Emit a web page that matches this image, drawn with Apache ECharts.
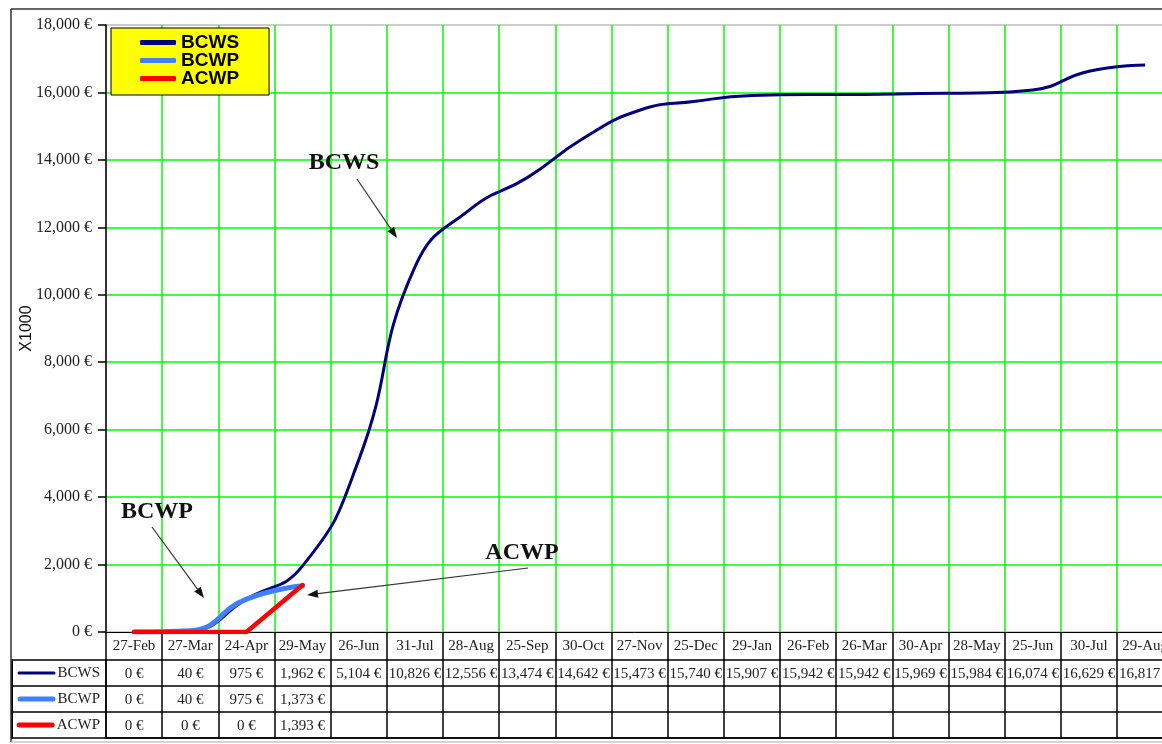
<!DOCTYPE html>
<html>
<head>
<meta charset="utf-8">
<script src="https://cdn.jsdelivr.net/npm/echarts@6/dist/echarts.min.js"></script>
<style>
  html, body { margin: 0; padding: 0; background: #fff; overflow: hidden; }
  #chart { width: 1162px; height: 744px; }
</style>
</head>
<body>
<div id="chart"></div>
<script>
// Reporting dates (x categories)
const categories = ['27-Feb', '27-Mar', '24-Apr', '29-May', '26-Jun', '31-Jul', '28-Aug', '25-Sep',
  '30-Oct', '27-Nov', '25-Dec', '29-Jan', '26-Feb', '26-Mar', '30-Apr', '28-May', '25-Jun', '30-Jul', '29-Aug'];

// Cumulative values (x1000 €)
const bcws = [0, 40, 975, 1962, 5104, 10826, 12556, 13474, 14642, 15473, 15740, 15907, 15942, 15942, 15969, 15984, 16074, 16629, 16817];
const bcwp = [0, 40, 975, 1373];
const acwp = [0, 0, 0, 1393];

const seriesNames = ['BCWS', 'BCWP', 'ACWP'];
const seriesColors = ['#000080', '#4080ff', '#ff0000'];

// Y axis ticks
const yMin = 0, yMax = 18000, yStep = 2000;

const SERIF = '"Liberation Serif", "Times New Roman", serif';
const SANS = '"Liberation Sans", Arial, sans-serif';

function euro(v) {
  return String(Math.round(v)).replace(/\B(?=(\d{3})+(?!\d))/g, ',') + ' \u20ac';
}

// Cells of the data table below the plot: [column, row, value]
const tableCells = [];
[bcws, bcwp, acwp].forEach((arr, r) => arr.forEach((v, i) => tableCells.push([i, r, v])));

const chart = echarts.init(document.getElementById('chart'), null, { renderer: 'canvas' });

const plotLeft = 106, colW = 56.17, plotTop = 25, plotBottomY = 632;
const plotWidth = colW * categories.length;

const option = {
  animation: false,
  backgroundColor: '#fff',
  grid: [
    { left: plotLeft, top: plotTop, width: plotWidth, height: plotBottomY - plotTop,
      outerBoundsMode: 'none', containLabel: false,
      show: true, borderColor: '#9a9a9a', borderWidth: 1, backgroundColor: 'transparent' },
    { left: plotLeft, top: 660, width: plotWidth, height: 78,
      outerBoundsMode: 'none', containLabel: false }
  ],
  legend: {
    data: seriesNames,
    orient: 'vertical',
    left: 111, top: 28,
    backgroundColor: '#ffff00',
    borderColor: '#000', borderWidth: 1,
    padding: [5, 30, 7, 29],
    itemGap: -1,
    itemWidth: 36, itemHeight: 5,
    icon: 'roundRect',
    selectedMode: false,
    textStyle: { fontFamily: SANS, fontWeight: 'bold', fontSize: 19, lineHeight: 18, color: '#000' }
  },
  xAxis: [
    {
      type: 'category', gridIndex: 0, data: categories, boundaryGap: true,
      axisLine: { show: true, lineStyle: { color: '#000', width: 1 } },
      axisTick: { show: true, interval: 0, length: 28, lineStyle: { color: '#000', width: 1.5 } },
      axisLabel: { interval: 0, margin: 7, fontFamily: SERIF, fontSize: 15, color: '#222' },
      splitLine: { show: true, interval: 0, showMinLine: false, lineStyle: { color: '#00ff00', width: 1.5 } }
    },
    {
      type: 'category', gridIndex: 1, data: categories, boundaryGap: true,
      axisLine: { show: true, lineStyle: { color: '#000', width: 1.5 } },
      axisTick: { show: false },
      axisLabel: { show: false },
      splitLine: { show: true, interval: 0, lineStyle: { color: '#000', width: 1.5 } }
    }
  ],
  yAxis: [
    {
      type: 'value', gridIndex: 0, min: yMin, max: yMax, interval: yStep,
      name: 'X1000', nameLocation: 'middle', nameRotate: 90, nameGap: 71, nameMoveOverlap: false,
      nameTextStyle: { fontFamily: SANS, fontSize: 16, color: '#111' },
      axisLine: { show: true, lineStyle: { color: '#000', width: 1.5 } },
      axisTick: { show: true, length: 8, lineStyle: { color: '#000', width: 1.5 } },
      axisLabel: { margin: 14, fontFamily: SERIF, fontSize: 16, color: '#222', formatter: v => euro(v) },
      splitLine: { show: true, showMinLine: false, showMaxLine: false, lineStyle: { color: '#00ff00', width: 1.5 } }
    },
    {
      type: 'category', gridIndex: 1, data: seriesNames, inverse: true, boundaryGap: true,
      axisLine: { show: true, lineStyle: { color: '#000', width: 1.5 } },
      axisTick: { show: true, interval: 0, length: 94, lineStyle: { color: '#000', width: 1.5 } },
      splitLine: { show: true, interval: 0, lineStyle: { color: '#000', width: 1.5 } },
      axisLabel: {
        interval: 0, margin: 6,
        formatter: (v, i) => '{k' + i + '|}{t|' + v + '}',
        rich: {
          k0: { width: 38, height: 3, backgroundColor: seriesColors[0], borderRadius: 1.5 },
          k1: { width: 38, height: 5, backgroundColor: seriesColors[1], borderRadius: 2.5 },
          k2: { width: 38, height: 5, backgroundColor: seriesColors[2], borderRadius: 2.5 },
          t: { fontFamily: SERIF, fontSize: 15, color: '#222', padding: [0, 0, 0, 2] }
        }
      }
    },
    {
      type: 'category', gridIndex: 1, data: seriesNames, inverse: true, position: 'left', offset: 94,
      axisLine: { show: true, lineStyle: { color: '#000', width: 2 } },
      axisTick: { show: false }, axisLabel: { show: false }, splitLine: { show: false }
    }
  ],
  series: [
    {
      name: 'BCWS', type: 'line', xAxisIndex: 0, yAxisIndex: 0, data: bcws,
      smooth: 0.5, showSymbol: false, symbol: 'none',
      lineStyle: { color: seriesColors[0], width: 3 }, itemStyle: { color: seriesColors[0] }, z: 3
    },
    {
      name: 'BCWP', type: 'line', xAxisIndex: 0, yAxisIndex: 0, data: bcwp,
      smooth: 0.5, showSymbol: false, symbol: 'none',
      lineStyle: { color: seriesColors[1], width: 5, cap: 'round' }, itemStyle: { color: seriesColors[1] }, z: 4
    },
    {
      name: 'ACWP', type: 'line', xAxisIndex: 0, yAxisIndex: 0, data: acwp,
      smooth: false, showSymbol: false, symbol: 'none',
      lineStyle: { color: seriesColors[2], width: 4.5, cap: 'round' }, itemStyle: { color: seriesColors[2] }, z: 5
    },
    {
      name: 'table', type: 'custom', xAxisIndex: 1, yAxisIndex: 1, data: tableCells,
      encode: { x: 0, y: 1 },
      renderItem: (params, api) => {
        const p = api.coord([api.value(0), api.value(1)]);
        return {
          type: 'text',
          style: {
            x: p[0], y: p[1] + 1, text: euro(api.value(2)),
            align: 'center', verticalAlign: 'middle',
            font: '15px ' + SERIF, fill: '#222'
          }
        };
      },
      silent: true
    }
  ]
};

chart.setOption(option);

// Callout labels with arrows
function arrow(x1, y1, x2, y2) {
  const ang = Math.atan2(y2 - y1, x2 - x1);
  const len = 11, half = 4;
  const bx = x2 - len * Math.cos(ang), by = y2 - len * Math.sin(ang);
  const nx = -Math.sin(ang), ny = Math.cos(ang);
  return [
    { type: 'line', shape: { x1, y1, x2: bx, y2: by }, style: { stroke: '#333', lineWidth: 1.2 }, z: 20 },
    { type: 'polygon', shape: { points: [[x2, y2], [bx + nx * half, by + ny * half], [bx - nx * half, by - ny * half]] },
      style: { fill: '#111' }, z: 20 }
  ];
}
function callout(text, cx, cy) {
  return { type: 'text', x: cx, y: cy, z: 20,
    style: { text, align: 'center', verticalAlign: 'middle', font: 'bold 24px ' + SERIF, fill: '#111' } };
}

chart.setOption({
  graphic: [
    // page frame
    { type: 'line', shape: { x1: 11, y1: 9, x2: 1162, y2: 9 }, style: { stroke: '#333', lineWidth: 1.5 }, z: 10 },
    { type: 'line', shape: { x1: 11, y1: 9, x2: 11, y2: 742 }, style: { stroke: '#333', lineWidth: 1.5 }, z: 10 },
    { type: 'line', shape: { x1: 11, y1: 742, x2: 1162, y2: 742 }, style: { stroke: '#aaa', lineWidth: 1 }, z: 10 },
    callout('BCWS', 344, 163),
    ...arrow(357, 179, 397, 238),
    callout('BCWP', 157, 512),
    ...arrow(152, 527, 204, 598),
    callout('ACWP', 522, 553),
    ...arrow(528, 568, 307, 595)
  ]
});
</script>
</body>
</html>
